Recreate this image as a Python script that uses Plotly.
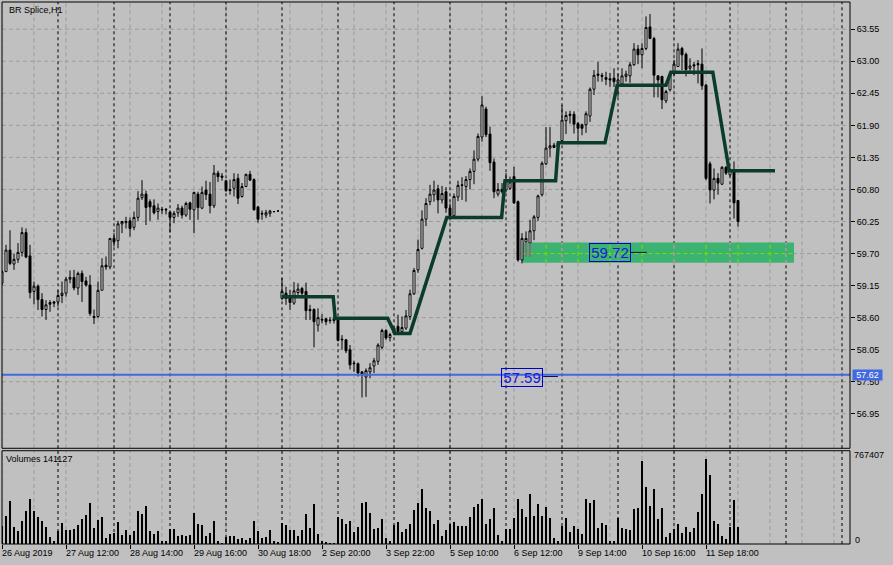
import plotly.graph_objects as go

# ---------------- data ----------------
opens = [59.19, 59.39, 59.76, 59.52, 59.60, 59.72, 60.06, 59.66, 59.05, 59.14,
         58.91, 58.74, 58.86, 58.87, 58.87, 58.98, 59.02, 59.26, 59.29, 59.11,
         59.36, 59.23, 59.16, 58.62, 58.62, 59.07, 59.50, 59.47, 59.96, 59.92,
         60.21, 60.23, 60.26, 60.15, 60.32, 60.66, 60.72, 60.59, 60.52, 60.42,
         60.46, 60.46, 60.41, 60.32, 60.40, 60.48, 60.36, 60.57, 60.45, 60.72,
         60.48, 60.79, 60.72, 60.52, 61.08, 61.03, 60.95, 60.80, 60.82, 60.99,
         60.68, 60.85, 61.06, 60.97, 60.50, 60.39, 60.36, 60.39, 60.42, 60.43,
         58.93, 59.02, 58.96, 58.85, 59.03, 59.10, 59.05, 58.74, 58.74, 58.47,
         58.57, 58.58, 58.56, 58.55, 58.57, 58.23, 58.22, 58.05, 57.82, 57.81,
         57.67, 57.58, 57.67, 57.77, 57.85, 58.09, 58.38, 58.26, 58.33, 58.45,
         58.36, 58.42, 58.62, 59.01, 59.42, 59.79, 60.29, 60.59, 60.71, 60.81,
         60.62, 60.76, 60.48, 60.35, 60.67, 60.88, 60.85, 60.97, 61.11, 61.32,
         61.70, 62.18, 61.75, 61.27, 60.72, 60.80, 60.79, 60.82, 61.02, 60.59,
         59.59, 59.90, 59.88, 60.09, 60.32, 60.71, 61.24, 61.51, 61.56, 61.55,
         61.64, 61.98, 62.09, 62.09, 61.93, 61.91, 61.91, 62.06, 62.52, 62.78,
         62.76, 62.72, 62.70, 62.71, 62.63, 62.61, 62.74, 62.75, 62.94, 63.21,
         63.11, 63.22, 63.59, 63.39, 62.75, 62.74, 62.32, 62.51, 62.78, 62.91,
         63.22, 63.12, 62.88, 62.94, 62.96, 62.95, 62.59, 61.24, 60.79, 60.99,
         60.89, 61.18, 61.05, 61.11, 60.61]
highs = [59.41, 59.85, 60.10, 59.70, 59.88, 60.15, 60.13, 59.85, 59.22, 59.17,
         59.02, 58.90, 58.90, 58.89, 59.07, 59.22, 59.30, 59.41, 59.42, 59.39,
         59.41, 59.30, 59.33, 58.74, 59.22, 59.62, 59.65, 59.96, 60.05, 60.26,
         60.26, 60.33, 60.32, 60.42, 60.77, 60.96, 60.78, 60.63, 60.63, 60.56,
         60.50, 60.48, 60.44, 60.43, 60.55, 60.52, 60.59, 60.59, 60.76, 60.76,
         60.85, 60.95, 60.93, 61.22, 61.12, 61.08, 60.95, 60.97, 61.08, 61.07,
         60.91, 61.07, 61.12, 60.99, 60.52, 60.44, 60.45, 60.45, 60.43, 60.43,
         59.28, 59.13, 59.08, 59.21, 59.19, 59.13, 59.20, 58.82, 58.76, 58.76,
         58.66, 58.59, 58.61, 58.63, 58.59, 58.30, 58.23, 58.13, 57.86, 57.83,
         57.67, 57.73, 57.82, 57.91, 58.16, 58.41, 58.40, 58.34, 58.45, 58.65,
         58.62, 58.73, 59.08, 59.45, 59.94, 60.44, 60.65, 60.88, 60.95, 60.88,
         60.86, 60.84, 60.56, 60.73, 60.95, 61.01, 61.03, 61.16, 61.47, 61.76,
         62.40, 62.22, 61.88, 61.33, 60.91, 60.91, 61.08, 61.02, 61.19, 60.61,
         60.05, 60.08, 60.28, 60.36, 60.71, 61.28, 61.87, 61.87, 61.60, 61.62,
         62.25, 62.14, 62.15, 62.14, 61.96, 61.93, 62.14, 62.55, 62.85, 62.99,
         62.80, 62.82, 62.80, 62.88, 62.79, 62.88, 62.84, 62.99, 63.31, 63.28,
         63.31, 63.77, 63.81, 63.42, 62.76, 62.75, 62.51, 62.80, 63.02, 63.31,
         63.25, 63.15, 63.05, 62.99, 63.02, 63.22, 62.61, 61.28, 61.16, 61.08,
         61.20, 61.20, 61.16, 61.28, 60.62]
lows = [59.16, 59.39, 59.50, 59.42, 59.54, 59.65, 59.62, 58.93, 58.83, 58.73,
        58.62, 58.56, 58.70, 58.78, 58.79, 58.85, 58.96, 59.19, 59.07, 58.99,
        58.87, 59.13, 58.63, 58.49, 58.59, 59.07, 59.42, 59.43, 59.82, 59.79,
        60.05, 60.13, 59.99, 60.10, 60.26, 60.62, 60.19, 60.26, 60.37, 60.28,
        60.38, 60.37, 60.06, 60.22, 60.33, 60.30, 60.33, 60.28, 60.05, 60.28,
        60.46, 60.62, 60.39, 60.48, 60.93, 60.95, 60.76, 60.71, 60.68, 60.55,
        60.66, 60.84, 60.95, 60.44, 60.23, 60.28, 60.31, 60.33, 60.41, 60.43,
        58.90, 58.82, 58.73, 58.82, 58.99, 58.93, 58.56, 58.56, 58.09, 58.36,
        58.50, 58.47, 58.50, 58.50, 58.19, 58.05, 57.99, 57.71, 57.67, 57.59,
        57.23, 57.24, 57.56, 57.65, 57.79, 58.06, 58.22, 58.19, 58.30, 58.34,
        58.33, 58.39, 58.56, 58.99, 59.37, 59.77, 60.17, 60.53, 60.59, 60.39,
        60.56, 60.40, 60.33, 60.33, 60.60, 60.62, 60.59, 60.80, 60.89, 61.28,
        61.62, 61.70, 61.12, 60.65, 60.68, 60.73, 60.75, 60.79, 60.55, 59.56,
        59.53, 59.65, 59.65, 59.93, 60.26, 60.68, 61.22, 61.36, 61.51, 61.48,
        61.62, 61.75, 61.93, 61.76, 61.61, 61.73, 61.77, 61.96, 62.42, 62.65,
        62.65, 62.59, 62.56, 62.56, 62.39, 62.56, 62.65, 62.63, 62.92, 62.95,
        62.88, 63.19, 63.38, 62.38, 62.38, 62.18, 62.28, 62.48, 62.76, 62.90,
        62.85, 62.74, 62.82, 62.76, 62.62, 62.51, 60.96, 60.56, 60.63, 60.71,
        60.88, 61.05, 61.02, 60.30, 60.16]
closes = [59.39, 59.76, 59.53, 59.60, 59.72, 60.06, 59.64, 59.03, 59.14, 58.91,
          58.74, 58.82, 58.83, 58.85, 58.98, 59.02, 59.26, 59.29, 59.11, 59.36,
          59.22, 59.16, 58.67, 58.60, 59.07, 59.49, 59.47, 59.96, 59.90, 60.21,
          60.25, 60.25, 60.13, 60.32, 60.65, 60.72, 60.49, 60.50, 60.40, 60.48,
          60.45, 60.45, 60.32, 60.39, 60.48, 60.36, 60.56, 60.46, 60.75, 60.49,
          60.75, 60.71, 60.52, 61.08, 61.02, 61.01, 60.78, 60.78, 60.97, 60.65,
          60.85, 61.06, 60.96, 60.45, 60.29, 60.38, 60.40, 60.43, 60.42, 60.43,
          59.05, 58.93, 58.86, 59.06, 59.09, 59.02, 58.72, 58.72, 58.53, 58.60,
          58.56, 58.53, 58.55, 58.58, 58.21, 58.22, 58.03, 57.79, 57.81, 57.65,
          57.62, 57.69, 57.74, 57.86, 58.13, 58.38, 58.25, 58.31, 58.42, 58.36,
          58.43, 58.63, 59.01, 59.41, 59.77, 60.29, 60.56, 60.72, 60.79, 60.62,
          60.73, 60.48, 60.35, 60.68, 60.87, 60.87, 60.97, 61.11, 61.32, 61.71,
          62.25, 61.74, 61.26, 60.76, 60.80, 60.76, 60.96, 60.93, 60.57, 59.59,
          59.96, 59.96, 60.09, 60.33, 60.69, 61.25, 61.51, 61.55, 61.52, 61.60,
          61.99, 62.07, 62.07, 61.92, 61.85, 61.85, 62.10, 62.52, 62.76, 62.76,
          62.74, 62.69, 62.68, 62.65, 62.68, 62.75, 62.78, 62.94, 63.21, 63.11,
          63.22, 63.58, 63.39, 62.76, 62.68, 62.34, 62.48, 62.78, 62.95, 63.21,
          63.11, 62.86, 62.92, 62.92, 62.94, 62.58, 60.99, 60.79, 60.99, 60.91,
          61.18, 61.08, 61.13, 60.57, 60.25]
volumes = [150000, 232400, 359700, 143900, 110700, 193700, 276700, 376300, 276700, 226900,
           188200, 143900, 60900, 27700, 110700, 177100, 116200, 116200, 127300, 160500,
           210300, 243500, 343100, 132800, 199200, 226900, 49800, 88500, 94100, 182600,
           77500, 116200, 77500, 110700, 276700, 249000, 315400, 110700, 83000, 110700,
           27700, 27700, 127300, 127300, 66400, 77500, 71900, 77500, 260100, 166000,
           160500, 66400, 94100, 193700, 27700, 11100, 60900, 66400, 66400, 44300,
           49800, 38700, 49800, 193700, 110700, 49800, 60900, 116200, 27700, 16600,
           177100, 160500, 116200, 116200, 66400, 116200, 249000, 132800, 332000, 88500,
           27700, 16600, 11100, 11100, 226900, 210300, 166000, 188200, 105100, 143900,
           343100, 348600, 260100, 127300, 132800, 207500, 49800, 27700, 160500, 182600,
           99600, 121700, 166000, 282200, 343100, 456600, 298800, 271200, 166000, 199200,
           66400, 116200, 166000, 182600, 149400, 149400, 149400, 226900, 309900, 332000,
           373500, 166000, 207500, 298800, 74700, 24900, 124500, 124500, 215800, 373500,
           290500, 224100, 415100, 232400, 332000, 232400, 307100, 215800, 49800, 27700,
           149400, 215800, 99600, 149400, 124500, 83000, 373500, 340300, 365200, 132800,
           174300, 157700, 24900, 24900, 215800, 132800, 124500, 116200, 290500, 298800,
           689000, 473200, 315400, 456600, 207500, 298800, 58100, 91300, 124500, 166000,
           91300, 141100, 99600, 132800, 265600, 415100, 705600, 572800, 190900, 166000,
           66400, 41500, 141100, 365200, 141127]
bar_index = list(range(len(opens)))

# step indicator line (bar index, price)
line_index = [69.9, 82.8, 83.3, 96.4, 98.25, 102, 111.2, 124.9, 125.75, 138.4,
              139.1, 150.75, 153.8, 166, 167.2, 177.7, 181.8, 193.25]
line_price = [58.96, 58.96, 58.59, 58.59, 58.33, 58.33, 60.32, 60.32, 60.95, 60.95,
              61.60, 61.60, 62.59, 62.59, 62.81, 62.81, 61.12, 61.12]

# horizontal level and zone
hline_price = 57.62
zone_index = [130.1, 198.0]
zone_price = [59.54, 59.89]

# text label objects
label_texts = ["57.59", "59.72"]
label_index = [130, 152]
label_price = [57.575, 59.715]
label_tail_start = [135.3, 157.2]
label_tail_end = [139.0, 161.2]
label_tail_price = [57.59, 59.72]

# axes
price_ticks = [56.95, 57.50, 58.05, 58.60, 59.15, 59.70, 60.25, 60.80, 61.35,
               61.90, 62.45, 63.00, 63.55]
date_label_index = [0, 16, 32, 48, 64, 80, 96, 112, 128, 144, 160, 176]
date_labels = ["26 Aug 2019", "27 Aug 12:00", "28 Aug 14:00", "29 Aug 16:00",
               "30 Aug 18:00", "2 Sep 20:00", "3 Sep 22:00", "5 Sep 10:00",
               "6 Sep 12:00", "9 Sep 14:00", "10 Sep 16:00", "11 Sep 18:00"]
grid_index = [8 * k for k in range(27)]
separator_index = [14 * k for k in range(1, 16)]
x_range = [0, 212]
y_range = [56.358, 64.017]
vol_max = 767407

# ---------------- styles ----------------
FONT = "Liberation Sans, Arial, sans-serif"
BG = "#c0c0c0"
GRID = "#9c9c9c"
DASH = "4px,3px"
LIME = "#7ae000"
PINK = "#ff80c0"
BLUE = "#4169e1"
MAIN_DOM = [0.1766, 1.0]
VOL_DOM = [0.0, 0.1721]

fig = go.Figure()

fig.add_trace(go.Candlestick(
    x=bar_index, open=opens, high=highs, low=lows, close=closes,
    increasing=dict(fillcolor="white", line=dict(color="black", width=1)),
    decreasing=dict(fillcolor="black", line=dict(color="black", width=1)),
    whiskerwidth=0, hoverinfo="skip", xaxis="x", yaxis="y", showlegend=False))

fig.add_trace(go.Bar(
    x=bar_index, y=volumes, width=0.5, marker=dict(color="black", line=dict(width=0)),
    xaxis="x", yaxis="y2", hoverinfo="skip", showlegend=False))

fig.add_trace(go.Scatter(
    x=line_index, y=line_price, mode="lines",
    line=dict(color="#0b3b2b", width=3.5), xaxis="x", yaxis="y",
    hoverinfo="skip", showlegend=False))

shapes = []
# gray grid (drawn as shapes so the zone can sit on top of it)
for p in price_ticks:
    shapes.append(dict(type="line", xref="x domain", yref="y", x0=0, x1=1, y0=p, y1=p,
                       line=dict(color=GRID, width=1, dash=DASH), layer="below"))
for g in grid_index:
    for yr in ("y domain", "y2 domain"):
        shapes.append(dict(type="line", xref="x", yref=yr, x0=g, x1=g, y0=0, y1=1,
                           line=dict(color=GRID, width=1, dash=DASH), layer="below"))
# separators (black dashed) in both panes
for s in separator_index:
    for yr in ("y domain", "y2 domain"):
        shapes.append(dict(type="line", xref="x", yref=yr, x0=s, x1=s, y0=0, y1=1,
                           line=dict(color="black", width=1, dash="3px,3px"), layer="below"))
# zone rectangle
shapes.append(dict(type="rect", xref="x", yref="y", x0=zone_index[0], x1=zone_index[1],
                   y0=zone_price[0], y1=zone_price[1], fillcolor="#3cb371",
                   line=dict(width=0), layer="below"))
# grid showing through the zone
for g in grid_index:
    if zone_index[0] <= g <= zone_index[1]:
        col = PINK if g in separator_index else LIME
        shapes.append(dict(type="line", xref="x", yref="y", x0=g, x1=g,
                           y0=zone_price[0], y1=zone_price[1],
                           line=dict(color=col, width=1, dash=DASH), layer="below"))
for s in separator_index:
    if zone_index[0] <= s <= zone_index[1] and s not in grid_index:
        shapes.append(dict(type="line", xref="x", yref="y", x0=s, x1=s,
                           y0=zone_price[0], y1=zone_price[1],
                           line=dict(color=PINK, width=1, dash="3px,3px"), layer="below"))
for p in price_ticks:
    if zone_price[0] <= p <= zone_price[1]:
        shapes.append(dict(type="line", xref="x", yref="y", x0=zone_index[0], x1=zone_index[1],
                           y0=p, y1=p, line=dict(color=LIME, width=1, dash=DASH), layer="below"))
# wicks inside the zone drawn pink
for i in bar_index:
    if zone_index[0] <= i <= zone_index[1]:
        top = min(min(opens[i], closes[i]), zone_price[1])
        bot = max(lows[i], zone_price[0])
        if top > bot:
            shapes.append(dict(type="line", xref="x", yref="y", x0=i, x1=i, y0=bot, y1=top,
                               line=dict(color=PINK, width=1), layer="above"))
# horizontal level
shapes.append(dict(type="line", xref="x domain", yref="y", x0=0, x1=1,
                   y0=hline_price, y1=hline_price, line=dict(color=BLUE, width=2), layer="above"))
# label tails
for a, b, p in zip(label_tail_start, label_tail_end, label_tail_price):
    shapes.append(dict(type="line", xref="x", yref="y", x0=a, x1=b, y0=p, y1=p,
                       line=dict(color="#10104a", width=1), layer="above"))
# pane frames
for yr in ("y domain", "y2 domain"):
    shapes.append(dict(type="rect", xref="x domain", yref=yr, x0=0, x1=1, y0=0, y1=1,
                       line=dict(color="black", width=1), fillcolor="rgba(0,0,0,0)", layer="above"))

annotations = []
for t, xi, p in zip(label_texts, label_index, label_price):
    annotations.append(dict(x=xi, y=p, xref="x", yref="y", text=t, showarrow=False,
                            font=dict(family=FONT, size=15, color="#1818e0"),
                            bordercolor="#0000c8", borderwidth=1, borderpad=1,
                            width=38, height=15, bgcolor="rgba(0,0,0,0)"))
annotations.append(dict(x=1, xshift=2, y=hline_price, xref="paper", yref="y",
                        text=f"{hline_price:.2f}", showarrow=False, xanchor="left",
                        font=dict(family=FONT, size=9, color="white"),
                        bgcolor=BLUE, borderpad=0, width=29, height=10))
annotations.append(dict(x=0.0055, y=0.985, xref="paper", yref="paper", text="BR Splice,H1",
                        showarrow=False, xanchor="left", yanchor="middle",
                        font=dict(family=FONT, size=9, color="black")))
annotations.append(dict(x=0.0024, y=0.1568, xref="paper", yref="paper",
                        text=f"Volumes {volumes[-1]}", showarrow=False,
                        xanchor="left", yanchor="middle",
                        font=dict(family=FONT, size=9, color="black")))
annotations.append(dict(x=1, xshift=2, y=0.1633, xref="paper", yref="paper", text=str(vol_max),
                        showarrow=False, xanchor="left", yanchor="middle",
                        font=dict(family=FONT, size=9, color="black")))
annotations.append(dict(x=1, xshift=3, y=0.0083, xref="paper", yref="paper", text="0",
                        showarrow=False, xanchor="left", yanchor="middle",
                        font=dict(family=FONT, size=9, color="black")))
for xi, t in zip(date_label_index, date_labels):
    annotations.append(dict(x=xi, xshift=-2, y=-0.0166, xref="x", yref="paper", text=t,
                            showarrow=False, xanchor="left", yanchor="middle",
                            font=dict(family=FONT, size=9, color="black")))

fig.update_layout(
    width=893, height=565,
    margin=dict(l=2, r=43, t=2, b=21, pad=0, autoexpand=False),
    paper_bgcolor=BG, plot_bgcolor=BG,
    font=dict(family=FONT, size=9, color="black"),
    showlegend=False, dragmode=False, bargap=0,
    xaxis=dict(domain=[0, 1], range=x_range, anchor="y2",
               tickmode="array", tickvals=date_label_index, showticklabels=False,
               ticks="outside", ticklen=4, tickcolor="black",
               showgrid=False, zeroline=False, showline=False,
               rangeslider=dict(visible=False), fixedrange=True),
    yaxis=dict(domain=MAIN_DOM, range=y_range, side="right", anchor="x",
               tickmode="array", tickvals=price_ticks,
               ticktext=[f"{p:.2f}" for p in price_ticks],
               ticks="outside", ticklen=4, tickcolor="black",
               tickfont=dict(family=FONT, size=9, color="black"),
               showgrid=False, zeroline=False, showline=False, fixedrange=True),
    yaxis2=dict(domain=VOL_DOM, range=[0, vol_max], side="right", anchor="x",
                showticklabels=False, ticks="", showgrid=False, zeroline=False,
                showline=False, fixedrange=True),
    shapes=shapes, annotations=annotations,
)

fig.write_html("out.html", config={"displayModeBar": False},
               post_script="document.body.style.margin='0';document.body.style.overflow='hidden';")
